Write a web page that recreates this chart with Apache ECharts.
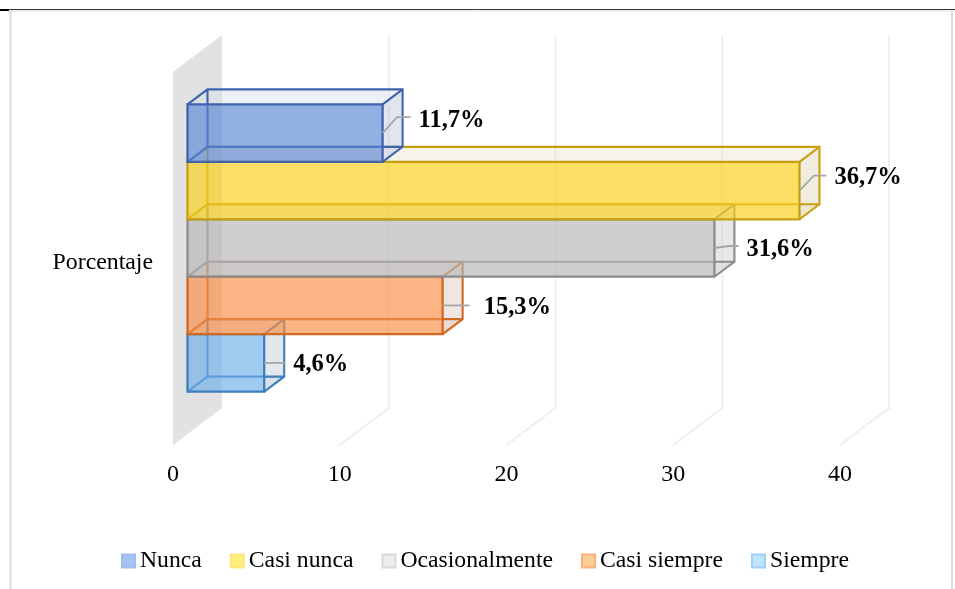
<!DOCTYPE html>
<html>
<head>
<meta charset="utf-8">
<style>html,body{margin:0;padding:0;background:#fff}#c{width:955px;height:589px}</style>
<script src="https://cdn.jsdelivr.net/npm/echarts@6/dist/echarts.min.js"></script>
</head>
<body>
<div id="c"></div>
<script>
// ---- data ----
const categories = ['Porcentaje'];
const seriesNames = ['Nunca', 'Casi nunca', 'Ocasionalmente', 'Casi siempre', 'Siempre'];
const seriesValues = [11.7, 36.7, 31.6, 15.3, 4.6];
const tickValues = [0, 10, 20, 30, 40];

// ---- styles ----
const FONT = '"Liberation Serif", "Times New Roman", serif';
const frontFill = ['rgba(87,134,214,.65)', 'rgba(250,208,20,.65)', 'rgba(181,181,181,.65)', 'rgba(252,140,66,.65)', 'rgba(109,175,232,.65)'];
const edgeColor = ['#3f64ad', '#c99f12', '#8c8c8c', '#cf6a25', '#3f7fbd'];
const topFill = ['rgba(215,222,232,.45)', 'rgba(232,222,190,.35)', 'rgba(215,215,215,.45)', 'rgba(225,205,195,.4)', 'rgba(210,218,225,.5)'];
const sideFill = ['rgba(190,198,220,.45)', 'rgba(218,210,175,.4)', 'rgba(205,205,205,.45)', 'rgba(220,200,190,.45)', 'rgba(200,210,220,.5)'];
const legendFill = ['#a6c3ef', '#fff07a', '#ededed', '#fbcf94', '#bde5fb'];
const legendEdge = ['#9fbcec', '#fde680', '#d9d9d9', '#fbb27e', '#9fd0f8'];

// ---- layout of the 3D projection ----
const wallDx = 49, wallDy = -37;
const barOffX = 14.5, barOffY = -10.5;
const barDx = 20, barDy = -15;
const barShare = 0.154;
const labelShiftX = [16, 15, 12, 21, 9];
const labelShiftY = [-12.5, -13, 1.5, 2.5, 1.5];
const leaderRise = [16, 15, 2, 0, 0];
const leaderEnd = [8, 7, 4, 7, 1];

function poly(points, fill, z2) {
  return { type: 'polygon', z2: z2 || 0, shape: { points }, style: { fill, stroke: null } };
}
function edge(points, color, width, z2) {
  return { type: 'polyline', z2: z2 || 0, shape: { points }, style: { fill: null, stroke: color, lineWidth: width, lineJoin: 'miter' } };
}

function renderWall(params, api) {
  const v = api.value(0);
  const base = api.coord([v, 0]);
  const band = api.size([0, 1])[1];
  const x = base[0], top = base[1] - band / 2, bot = base[1] + band / 2;
  if (v === 0) {
    return { type: 'group', children: [poly([[x, top], [x + wallDx, top + wallDy], [x + wallDx, bot + wallDy], [x, bot]], '#e2e2e2')] };
  }
  return { type: 'group', children: [edge([[x + wallDx, top + wallDy], [x + wallDx, bot + wallDy], [x, bot]], '#efefef', 2)] };
}

function renderBar(params, api) {
  const i = params.seriesIndex - 1;
  const v = api.value(0);
  const zero = api.coord([0, 0]);
  const end = api.coord([v, 0]);
  const band = api.size([0, 1])[1];
  const h = band * barShare;
  const l = zero[0] + barOffX, r = end[0] + barOffX;
  const t = zero[1] + barOffY + (i - 2.5) * h, b = t + h;
  const dx = barDx, dy = barDy;
  const c = edgeColor[i];
  const mid = (t + b) / 2;
  const text = String(v).replace('.', ',') + '%';
  return {
    type: 'group',
    children: [
      // rear faces
      poly([[l, t], [l + dx, t + dy], [r + dx, t + dy], [r, t]], topFill[i], 1),
      poly([[r, t], [r + dx, t + dy], [r + dx, b + dy], [r, b]], sideFill[i], 1),
      poly([[r, b], [r + dx, b + dy], [r, b + dy]], topFill[i], 1),
      // rear edges
      edge([[l + dx, t + dy], [l + dx, b + dy]], c, 2.1, 2),
      edge([[l + dx, b + dy], [r + dx, b + dy]], c, 2.1, 2),
      edge([[l, b], [l + dx, b + dy]], c, 2.1, 2),
      // front face
      poly([[l, t], [r, t], [r, b], [l, b]], frontFill[i], 3),
      // visible edges
      edge([[l, t], [l + dx, t + dy], [r + dx, t + dy], [r + dx, b + dy], [r, b]], c, 2.1, 4),
      edge([[r, t], [r + dx, t + dy]], c, 2.1, 4),
      { type: 'rect', z2: 5, shape: { x: l, y: t, width: r - l, height: b - t }, style: { fill: null, stroke: c, lineWidth: 2.3 } },
      // leader line
      edge([[r, mid], [r + dx * 0.72, mid - leaderRise[i]], [r + dx + leaderEnd[i], mid - leaderRise[i]]], '#a6a6a6', 1.8, 6),
      // value label
      { type: 'text', z2: 7, style: {
          x: r + dx + labelShiftX[i], y: mid + labelShiftY[i], text,
          font: 'bold 24.5px ' + FONT, fill: '#000', textAlign: 'left', textVerticalAlign: 'middle'
      } }
    ]
  };
}

const chart = echarts.init(document.getElementById('c'), null, { renderer: 'canvas' });
chart.setOption({
  animation: false,
  backgroundColor: '#fff',
  grid: { left: 173, right: 115, top: 72, bottom: 144, containLabel: false },
  xAxis: {
    type: 'value', min: 0, max: 40, interval: 10,
    axisLine: { show: false }, axisTick: { show: false }, splitLine: { show: false },
    axisLabel: { color: '#000', fontFamily: FONT, fontSize: 24, margin: 18 }
  },
  yAxis: {
    type: 'category', data: categories,
    axisLine: { show: false }, axisTick: { show: false }, splitLine: { show: false },
    axisLabel: {
      margin: 20,
      formatter: v => '{a|' + v + '}',
      rich: { a: { color: '#000', fontFamily: FONT, fontSize: 23.8, padding: [8, 0, 0, 0] } }
    }
  },
  legend: {
    left: 116, top: 544, icon: 'rect', itemWidth: 13, itemHeight: 13, itemGap: 28,
    textStyle: { color: '#000', fontFamily: FONT, fontSize: 23.7 },
    data: seriesNames.map((name, i) => ({
      name, itemStyle: { color: legendFill[i], borderColor: legendEdge[i], borderWidth: 2 }
    }))
  },
  graphic: [
    { type: 'line', silent: true, shape: { x1: 0, y1: 9.5, x2: 955, y2: 9.5 }, style: { stroke: '#333', lineWidth: 1 } },
    { type: 'line', silent: true, shape: { x1: 0, y1: 10, x2: 9, y2: 10 }, style: { stroke: '#000', lineWidth: 2 } },
    { type: 'line', silent: true, shape: { x1: 10, y1: 11, x2: 955, y2: 11 }, style: { stroke: '#e0e0e0', lineWidth: 1 } },
    { type: 'line', silent: true, shape: { x1: 10.5, y1: 11, x2: 10.5, y2: 589 }, style: { stroke: '#dcdcdc', lineWidth: 2 } },
    { type: 'line', silent: true, shape: { x1: 952, y1: 11, x2: 952, y2: 589 }, style: { stroke: '#dcdcdc', lineWidth: 2 } }
  ],
  series: [
    {
      type: 'custom', name: 'walls', z: 1, silent: true, coordinateSystem: 'cartesian2d',
      data: tickValues.map(t => [t, 0]), encode: { x: 0, y: 1 }, renderItem: renderWall
    }
  ].concat(seriesNames.map((name, i) => ({
    type: 'custom', name, coordinateSystem: 'cartesian2d', z: 10 - i,
    itemStyle: { color: legendFill[i] },
    data: [[seriesValues[i], 0]], encode: { x: 0, y: 1 }, renderItem: renderBar
  })))
});
</script>
</body>
</html>
